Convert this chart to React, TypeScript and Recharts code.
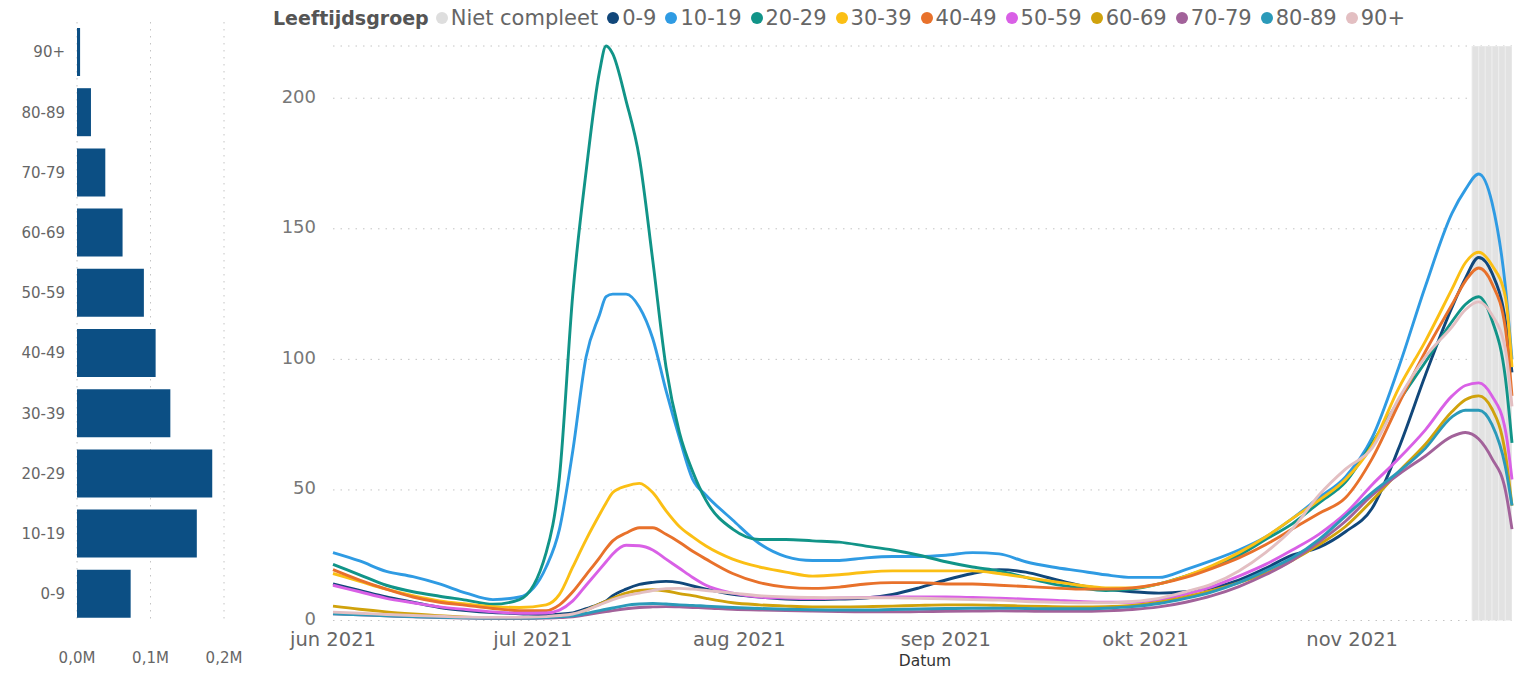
import React from 'react';
import { BarChart, Bar, XAxis, YAxis, CartesianGrid, LineChart, Line, ReferenceArea } from 'recharts';

// ---------- left bar chart data ----------
const AGE_GROUPS = ['90+', '80-89', '70-79', '60-69', '50-59', '40-49', '30-39', '20-29', '10-19', '0-9'];
const CASES_TOTAL = [4200, 19000, 38500, 62000, 91000, 107000, 127000, 184000, 163000, 73000];
const BAR_TICKS = [0, 100000, 200000];

// ---------- line chart data ----------
const DATES = [
  '2021-06-01', '2021-06-05', '2021-06-09', '2021-06-13', '2021-06-17', '2021-06-21', '2021-06-25', '2021-06-29',
  '2021-07-03', '2021-07-05', '2021-07-07', '2021-07-09', '2021-07-11', '2021-07-12', '2021-07-13', '2021-07-15',
  '2021-07-17', '2021-07-19', '2021-07-21', '2021-07-23', '2021-07-25', '2021-07-27', '2021-07-31', '2021-08-04',
  '2021-08-08', '2021-08-12', '2021-08-16', '2021-08-20', '2021-08-24', '2021-08-28', '2021-09-01', '2021-09-05',
  '2021-09-09', '2021-09-13', '2021-09-17', '2021-09-21', '2021-09-25', '2021-09-29', '2021-10-03', '2021-10-07',
  '2021-10-11', '2021-10-15', '2021-10-19', '2021-10-23', '2021-10-27', '2021-10-31', '2021-11-04', '2021-11-08',
  '2021-11-12', '2021-11-16', '2021-11-18', '2021-11-20', '2021-11-22', '2021-11-24', '2021-11-25',
];

const S_0_9 = [14, 11.5, 9, 7, 5, 3.8, 3, 2.6, 2.2, 2.4, 2.9, 4.5, 6.3, 7.5, 9.5, 12, 13.8, 14.6, 15, 14.5, 13.2, 12, 10, 9, 8.2, 8, 8.2, 8.6, 10, 12.5, 15.5, 18, 19.5, 18.5, 16, 13.5, 12, 11, 10.5, 11, 12.5, 15.5, 20, 25, 28, 34, 43, 66, 94, 120, 131, 139, 133, 115, 95];
const S_10_19 = [26, 22.8, 18.8, 16.8, 14, 10.5, 8, 9, 20.5, 35, 65, 101, 117, 124, 125, 125, 120, 108, 88, 70, 54, 48, 38.5, 29.5, 24.5, 23, 23, 24, 24.5, 24.5, 25, 26, 25.5, 22.5, 20.5, 19, 17.5, 16.5, 16.5, 19.5, 23, 27, 32, 39, 47, 55, 70, 97, 128, 156, 165, 171, 160, 128, 100];
const S_20_29 = [21.5, 17.5, 13.5, 11, 9.3, 7.8, 6.2, 8, 26, 55, 125, 172, 210, 220, 217, 199, 177, 138, 97, 72, 57, 46, 35, 31, 31, 30.5, 30, 28.5, 27, 25, 22.5, 20.5, 19, 16.5, 14, 12.5, 11.5, 12, 14, 17, 20.5, 25, 31, 37, 45, 53, 68, 84, 99, 114.5, 121, 124, 115, 93, 68];
const S_30_39 = [18, 15, 12, 9.5, 7.5, 6.3, 5.3, 5, 6, 10, 20.5, 31, 40.5, 45, 49, 51.5, 52.5, 49, 42, 36, 32, 28.5, 23.5, 20.5, 18.5, 17, 17.5, 18.5, 19, 19, 19, 19, 18, 16.5, 15, 13.5, 12.5, 12.5, 14, 17, 21, 26, 32, 39, 46, 54, 67, 89, 107, 127, 137, 141, 136, 124, 97];
const S_40_49 = [19.5, 15.5, 12, 9, 7, 5.8, 4.6, 3.8, 3.8, 6, 11, 17.5, 24, 27.5, 30.5, 33.5, 35.5, 35.5, 33, 30, 26.5, 23.5, 18, 14.5, 12.8, 12.3, 12.8, 14, 14.5, 14.5, 14, 14, 13.5, 13, 12.5, 12, 12, 12.5, 14, 16.5, 20, 24, 29, 35, 41, 47, 62, 83, 103, 121, 130, 135, 129, 112, 86];
const S_50_59 = [13.5, 11, 8.5, 6.8, 5.2, 4.2, 3.3, 2.8, 2.9, 4, 7.5, 13.5, 19.5, 22.5, 25.5, 28.8, 28.6, 27, 23.5, 20, 16.5, 13.5, 10.5, 9, 8.6, 8.4, 8.6, 8.8, 9, 9, 9, 8.8, 8.5, 8.2, 7.8, 7.3, 7, 7, 8, 10, 13, 17, 21.5, 27, 33, 41, 52, 62, 73, 86, 90, 91, 86, 73, 54];
const S_60_69 = [5.5, 4.3, 3.3, 2.5, 1.8, 1.3, 1, 0.9, 1.2, 1.6, 2.3, 4, 6.3, 7.3, 8.5, 10.5, 11.5, 11.8, 11.3, 10.3, 9.5, 8.5, 6.8, 6, 5.5, 5.2, 5.2, 5.3, 5.5, 5.8, 6, 6, 5.8, 5.5, 5.3, 5.2, 5.3, 5.8, 7, 9, 11.5, 14.5, 18, 23, 29, 36, 46, 57, 67.5, 80, 84.5, 86, 81, 64, 44];
const S_70_79 = [2.6, 2.2, 1.8, 1.4, 1.1, 0.9, 0.8, 0.8, 0.9, 1.1, 1.4, 2.2, 3, 3.4, 3.8, 4.5, 5, 5.2, 5.3, 5.2, 5, 4.8, 4.3, 4, 3.8, 3.6, 3.4, 3.3, 3.3, 3.4, 3.5, 3.6, 3.7, 3.6, 3.5, 3.5, 3.7, 4.2, 5.2, 7, 9.5, 13, 17.5, 23, 30, 38, 48, 56, 63, 70.5, 72, 69.5, 62, 50, 35];
const S_80_89 = [2.6, 2.2, 1.8, 1.5, 1.2, 1, 0.9, 0.9, 1.1, 1.4, 1.8, 2.7, 3.8, 4.3, 4.8, 5.8, 6.3, 6.5, 6.3, 6, 5.8, 5.5, 5, 4.6, 4.3, 4.1, 4, 4, 4.2, 4.4, 4.6, 4.7, 4.7, 4.6, 4.5, 4.5, 4.7, 5.3, 6.5, 8.5, 11, 14.5, 19, 24, 31, 40, 49, 57, 66, 78, 80.5, 80.5, 75, 59, 44];
const S_90 = [3.2, 2.8, 2.3, 1.9, 1.6, 1.3, 1.2, 1.2, 1.5, 1.9, 2.5, 4, 6, 7, 8, 9.5, 10.5, 11.5, 12.2, 12.3, 12, 11.5, 10.5, 9.5, 9, 8.8, 8.7, 8.7, 8.7, 8.5, 8.3, 8, 7.8, 7.3, 7, 6.8, 6.8, 7.3, 8.5, 11, 14, 19, 26, 35, 48, 58, 66, 85, 101, 112.5, 119, 122, 117, 104, 82];

const SERIES_NAMES = ['0-9', '10-19', '20-29', '30-39', '40-49', '50-59', '60-69', '70-79', '80-89', '90+'];
const SERIES_VALUES = [S_0_9, S_10_19, S_20_29, S_30_39, S_40_49, S_50_59, S_60_69, S_70_79, S_80_89, S_90];
const SERIES_COLORS = ['#11477a', '#2f9be3', '#119488', '#fbbf14', '#e8712b', '#d960e6', '#d0a20c', '#a2629a', '#2b9ab9', '#e3bfc2'];

const INCOMPLETE_LABEL = 'Niet compleet';
const INCOMPLETE_COLOR = '#dedede';
const INCOMPLETE_DATES = ['2021-11-19', '2021-11-20', '2021-11-21', '2021-11-22', '2021-11-23', '2021-11-24'];

const MONTH_TICKS = ['2021-06-01', '2021-07-01', '2021-08-01', '2021-09-01', '2021-10-01', '2021-11-01'];
const MONTH_LABELS = ['jun 2021', 'jul 2021', 'aug 2021', 'sep 2021', 'okt 2021', 'nov 2021'];
const Y_TICKS = [0, 50, 100, 150, 200];

// ---------- helpers ----------
const START = Date.parse('2021-06-01');
const dayOf = (s: string) => Math.round((Date.parse(s) - START) / 86400000);

const barData = AGE_GROUPS.map((g, i) => ({ group: g, cases: CASES_TOTAL[i] }));

const lineData = DATES.map((d, i) => {
  const row: Record<string, number> = { day: dayOf(d) };
  SERIES_NAMES.forEach((n, k) => {
    row[n] = SERIES_VALUES[k][i];
  });
  return row;
});

const monthTickDays = MONTH_TICKS.map(dayOf);
const monthLabelOf = (v: number) => {
  const idx = monthTickDays.indexOf(v);
  return idx >= 0 ? MONTH_LABELS[idx] : '';
};

const FONT = "'DejaVu Sans', sans-serif";
const GRID = '#c4c4c4';

const fmtM = (v: number) => (v / 1000000).toFixed(1).replace('.', ',') + 'M';

const YTick = (props: any) => {
  const { x, y, payload } = props;
  return (
    <text x={x} y={y + 4.4} textAnchor="end" fontSize={18} fill="#777777" fontFamily={FONT}>
      {payload.value}
    </text>
  );
};

const Dot = ({ color }: { color: string }) => (
  <span
    style={{
      display: 'inline-block',
      width: 12,
      height: 12,
      borderRadius: '50%',
      background: color,
      marginRight: 3,
      flex: '0 0 auto',
    }}
  />
);

export default function App() {
  const legendItems = [{ name: INCOMPLETE_LABEL, color: INCOMPLETE_COLOR }].concat(
    SERIES_NAMES.map((n, i) => ({ name: n, color: SERIES_COLORS[i] }))
  );
  return (
    <div
      style={{
        position: 'absolute',
        left: 0,
        top: 0,
        width: 1521,
        height: 676,
        background: '#ffffff',
        fontFamily: FONT,
        overflow: 'hidden',
      }}
    >
      {/* Left: bar chart */}
      <div style={{ position: 'absolute', left: 0, top: 0 }}>
        <BarChart
          width={250}
          height={676}
          data={barData}
          layout="vertical"
          margin={{ top: 22, right: 26, bottom: 22, left: 0 }}
        >
          <CartesianGrid horizontal={false} vertical={true} stroke={GRID} strokeDasharray="1.5 5.5" />
          <XAxis
            type="number"
            domain={[0, 200000]}
            ticks={BAR_TICKS}
            tickFormatter={fmtM}
            axisLine={false}
            tickLine={false}
            tickSize={0}
            tickMargin={28}
            height={30}
            interval={0}
            tick={{ fontSize: 15, fill: '#666666', fontFamily: FONT }}
          />
          <YAxis
            type="category"
            dataKey="group"
            width={77}
            axisLine={false}
            tickLine={false}
            tickSize={0}
            tickMargin={12}
            interval={0}
            tick={{ fontSize: 15, fill: '#666666', fontFamily: FONT }}
          />
          <Bar dataKey="cases" fill="#0c4f84" barSize={48} isAnimationActive={false} />
        </BarChart>
      </div>

      {/* Legend */}
      <div
        style={{
          position: 'absolute',
          left: 273,
          top: 4,
          height: 27,
          display: 'flex',
          alignItems: 'center',
          whiteSpace: 'nowrap',
        }}
      >
        <span style={{ fontWeight: 'bold', fontSize: 19, color: '#555555', marginRight: 7 }}>Leeftijdsgroep</span>
        {legendItems.map((it) => (
          <span key={it.name} style={{ display: 'flex', alignItems: 'center', marginRight: 9 }}>
            <Dot color={it.color} />
            <span style={{ fontSize: 21, color: '#666666' }}>{it.name}</span>
          </span>
        ))}
      </div>

      {/* Right: line chart */}
      <div style={{ position: 'absolute', left: 250, top: 0 }}>
        <LineChart width={1271} height={676} data={lineData} margin={{ top: 46, right: 9, bottom: 20.5, left: 0 }}>
          <CartesianGrid vertical={false} stroke={GRID} strokeDasharray="1.5 6" />
          {INCOMPLETE_DATES.map((d) => (
            <ReferenceArea
              key={d}
              x1={dayOf(d)}
              x2={dayOf(d) + 1}
              fill="#e2e2e2"
              fillOpacity={1}
              stroke="#ededed"
              strokeWidth={1}
              ifOverflow="hidden"
            />
          ))}
          <XAxis
            type="number"
            dataKey="day"
            domain={[0, 177]}
            ticks={monthTickDays}
            tickFormatter={monthLabelOf}
            axisLine={false}
            tickLine={false}
            tickSize={0}
            tickMargin={11.5}
            height={35}
            interval={0}
            tick={{ fontSize: 19.5, fill: '#666666', fontFamily: FONT }}
          />
          <YAxis
            type="number"
            domain={[0, 220]}
            ticks={Y_TICKS}
            axisLine={false}
            tickLine={false}
            tickSize={0}
            tickMargin={17}
            width={83}
            interval={0}
            tick={<YTick />}
          />
          {SERIES_NAMES.map((n, i) => (
            <Line
              key={n}
              type="monotone"
              dataKey={n}
              stroke={SERIES_COLORS[i]}
              strokeWidth={2.9}
              dot={false}
              activeDot={false}
              isAnimationActive={false}
            />
          ))}
        </LineChart>
      </div>

      {/* Axis title */}
      <div
        style={{
          position: 'absolute',
          left: 925,
          top: 652,
          transform: 'translateX(-50%)',
          fontSize: 15.5,
          lineHeight: '18px',
          color: '#333333',
          whiteSpace: 'nowrap',
        }}
      >
        Datum
      </div>
    </div>
  );
}
